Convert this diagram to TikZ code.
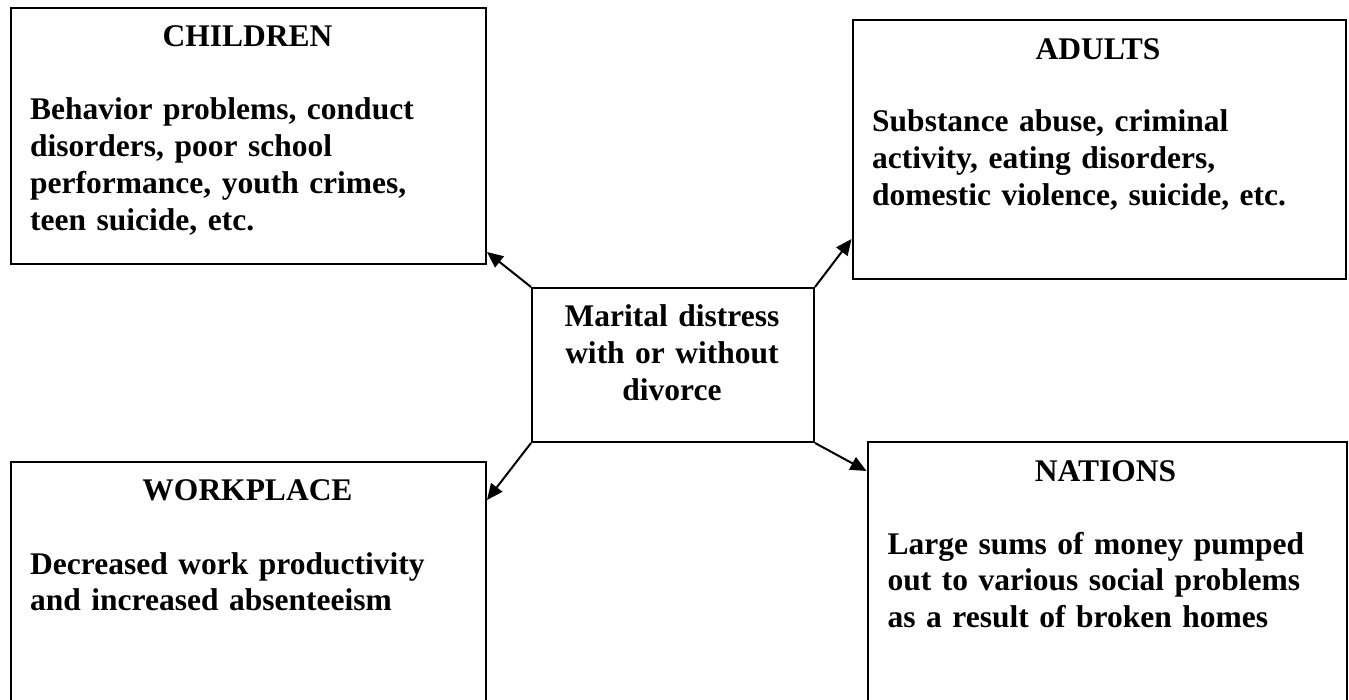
\documentclass[tikz,border=0pt]{standalone}
\usepackage{fontspec}
\setmainfont{Liberation Serif}
\usetikzlibrary{arrows.meta}
\begin{document}
\begin{tikzpicture}[x=1pt,y=-1pt,
  box/.style={draw,line width=2pt,rectangle,inner sep=0pt,anchor=north west},
  head/.style={font=\fontsize{31.5}{36.8}\selectfont\bfseries,inner sep=0pt,anchor=base},
  body/.style={font=\fontsize{31.5}{36.8}\selectfont\bfseries,inner sep=0pt,anchor=base west,align=left,text width=520pt},
  midtext/.style={font=\fontsize{31.5}{36.6}\selectfont\bfseries,inner sep=0pt,anchor=base,align=center,text width=300pt},
  arr/.style={line width=2pt,-{Triangle[length=16pt,width=14pt]}}]
\clip (0,0) rectangle (1349,700);
\fill[white] (0,0) rectangle (1349,700);
% boxes
\node[box,minimum width=475pt,minimum height=256pt] (children) at (10,7) {};
\node[box,minimum width=493pt,minimum height=259pt] (adults) at (851.5,19) {};
\node[box,minimum width=282pt,minimum height=154pt] (center) at (531,287) {};
\node[box,minimum width=479pt,minimum height=280pt] (nations) at (866.5,441) {};
\node[box,minimum width=475pt,minimum height=270pt] (workplace) at (10,461) {};
% texts
\node[head] (childrenhead) at (247.5,47) {CHILDREN};
\node[body] (childrenbody) at (30,120) {Behavior problems, conduct\\disorders, poor school\\performance, youth crimes,\\teen suicide, etc.};
\node[head] (adultshead) at (1098,60) {ADULTS};
\node[body] (adultsbody) at (872,132) {Substance abuse, criminal\\activity, eating disorders,\\domestic violence, suicide, etc.};
\node[midtext] (centertext) at (672,327) {Marital distress\\with or without\\divorce};
\node[head] (nationshead) at (1105.5,481) {NATIONS};
\node[body] (nationsbody) at (887.5,554) {Large sums of money pumped\\out to various social problems\\as a result of broken homes};
\node[head] (workplacehead) at (247.5,500) {WORKPLACE};
\node[body] (workplacebody) at (30,574) {Decreased work productivity\\and increased absenteeism};
% arrows
\draw[arr] (center.north west) -- ([yshift=13pt]children.south east);
\draw[arr] (center.north east) -- ([yshift=41pt]adults.south west);
\draw[arr] (center.south east) -- ([yshift=-30pt]nations.north west);
\draw[arr] (center.south west) -- ([yshift=-39pt]workplace.north east);
\end{tikzpicture}
\end{document}
